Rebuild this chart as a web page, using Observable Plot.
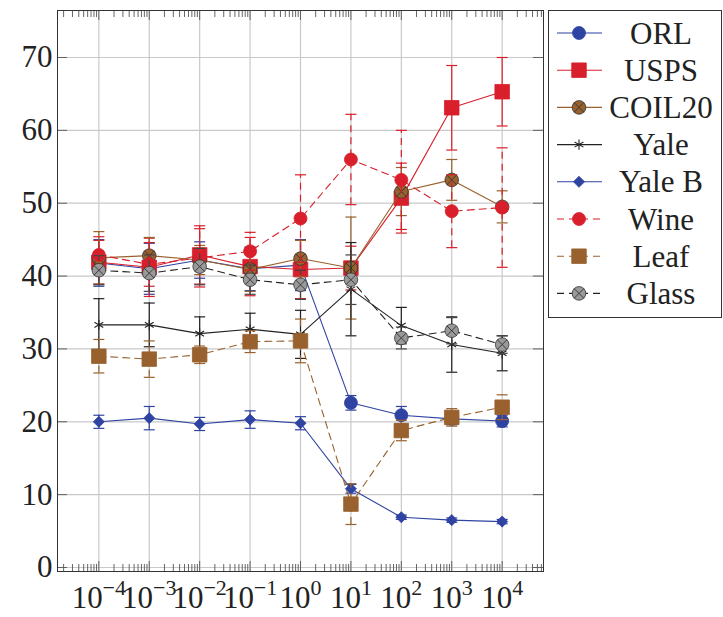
<!DOCTYPE html>
<html><head><meta charset="utf-8">
<script src="https://cdn.jsdelivr.net/npm/d3@7"></script>
<script src="https://cdn.jsdelivr.net/npm/@observablehq/plot@0.6"></script>
<style>
html,body{margin:0;padding:0;background:#fff;}
#chart{position:relative;width:723px;height:617px;}
</style></head><body><div id="chart"></div>
<script>
// ---- data ----
const lambdas = [1e-4, 1e-3, 1e-2, 1e-1, 1e0, 1e1, 1e2, 1e3, 1e4];
const seriesNames = ["ORL", "USPS", "COIL20", "Yale", "Yale B", "Wine", "Leaf", "Glass"];
const orl      = [41.8, 41.0, 42.2, 41.0, 41.5, 22.6, 20.9, 20.4, 20.1];
const orlErr   = [3.2, 3.5, 2.5, 3.0, 3.5, 1.0, 1.2, 0.8, 0.8];
const usps     = [41.9, 41.2, 42.9, 41.3, 40.9, 41.1, 50.7, 63.1, 65.3];
const uspsErr  = [3.0, 4.0, 4.0, 4.0, 4.0, 3.0, 4.8, 5.8, 4.7];
const coil20   = [42.5, 42.8, 42.2, 40.9, 42.4, 41.1, 51.6, 53.2, 49.5];
const coil20Err= [3.6, 2.5, 2.0, 3.0, 2.5, 7.0, 3.3, 2.8, 2.2];
const yale     = [33.3, 33.3, 32.1, 32.7, 32.0, 38.2, 33.2, 30.6, 29.4];
const yaleErr  = [3.6, 3.0, 2.3, 2.2, 3.3, 6.4, 2.5, 3.8, 2.4];
const yaleB    = [20.0, 20.5, 19.7, 20.3, 19.8, 10.8, 6.9, 6.5, 6.3];
const yaleBErr = [0.9, 1.6, 0.9, 1.2, 0.9, 0.6, 0.3, 0.3, 0.3];
const wine     = [42.9, 41.6, 42.5, 43.4, 47.9, 56.0, 53.2, 48.9, 49.4];
const wineErr  = [2.5, 3.0, 4.0, 2.6, 6.0, 6.2, 6.8, 5.0, 8.2];
const leaf     = [29.0, 28.6, 29.2, 31.0, 31.1, 8.7, 18.8, 20.6, 22.0];
const leafErr  = [2.3, 2.5, 1.2, 1.5, 3.0, 2.8, 1.4, 1.2, 1.7];
const glass    = [40.8, 40.4, 41.3, 39.5, 38.8, 39.5, 31.5, 32.5, 30.6];
const glassErr = [2.0, 2.5, 2.5, 2.0, 2.0, 3.4, 1.5, 1.8, 1.2];
const xTickValues = [1e-4, 1e-3, 1e-2, 1e-1, 1e0, 1e1, 1e2, 1e3, 1e4];
const yTickValues = [0, 10, 20, 30, 40, 50, 60, 70];

const values = [orl, usps, coil20, yale, yaleB, wine, leaf, glass];
const errors = [orlErr, uspsErr, coil20Err, yaleErr, yaleBErr, wineErr, leafErr, glassErr];

// ---- styles ----
const BLUE = "#2e43a2", RED = "#d81f2b", BROWN = "#98612d", BLACK = "#222";
const styles = {
  "ORL":    {color: BLUE,  fill: BLUE,  symbol: "circle",   r: 6.5, dash: null},
  "USPS":   {color: RED,   fill: RED,   symbol: "square",   r: 8.2, dash: null},
  "COIL20": {color: BROWN, fill: BROWN, symbol: "circle",   r: 6.8, dash: null, otimes: true},
  "Yale":   {color: BLACK, fill: "none",symbol: "asterisk", r: 4.8, dash: null},
  "Yale B": {color: BLUE,  fill: BLUE,  symbol: "diamond2", r: 5.0, dash: null},
  "Wine":   {color: RED,   fill: RED,   symbol: "circle",   r: 6.5, dash: "7,5"},
  "Leaf":   {color: BROWN, fill: BROWN, symbol: "square",   r: 8.2, dash: "7,5"},
  "Glass":  {color: BLACK, fill: "#999",symbol: "circle",   r: 6.8, dash: "7,5", otimes: true, errColor: "#444"}
};
const capSymbol = {draw(ctx, size) { const r = Math.sqrt(size / Math.PI); ctx.moveTo(-r, 0); ctx.lineTo(r, 0); }};

const W = 723, H = 617, mL = 57, mR = 180, mT = 10, mB = 46;
const frameH = H - mT - mB, frameW = W - mL - mR;

// minor ticks (log decades)
const minorX = [];
for (let e = -5; e <= 4; e++) for (let k = 2; k <= 9; k++) {
  const v = k * Math.pow(10, e);
  if (v > Math.pow(10, -4.82) && v < Math.pow(10, 4.82)) minorX.push(v);
}

const marks = [
  Plot.ruleX(xTickValues, {x: d => d, stroke: "#c9c9c9", strokeWidth: 1.2}),
  Plot.ruleY(yTickValues, {y: d => d, stroke: "#c9c9c9", strokeWidth: 1.2}),
  // inward ticks
  Plot.ruleX(minorX, {x: d => d, insetTop: frameH - 7, stroke: "#555", strokeWidth: 0.9}),
  Plot.ruleX(minorX, {x: d => d, insetBottom: frameH - 7, stroke: "#555", strokeWidth: 0.9}),
  Plot.ruleX(xTickValues, {x: d => d, insetTop: frameH - 10, stroke: "#555", strokeWidth: 0.9}),
  Plot.ruleX(xTickValues, {x: d => d, insetBottom: frameH - 10, stroke: "#555", strokeWidth: 0.9}),
  Plot.ruleY(yTickValues, {y: d => d, insetRight: frameW - 10, stroke: "#555", strokeWidth: 0.9}),
  Plot.ruleY(yTickValues, {y: d => d, insetLeft: frameW - 10, stroke: "#555", strokeWidth: 0.9}),
  Plot.axisY({ticks: yTickValues, tickSize: 0, tickPadding: 5, label: null, fill: "#222"}),
  Plot.axisX({ticks: xTickValues, tickSize: 0, tickPadding: 14, label: null, fill: "#222",
    tickFormat: d => "10|" + Math.round(Math.log10(d))})
];

seriesNames.forEach((name, si) => {
  const s = styles[name];
  const data = lambdas.map((x, i) => ({x, y: values[si][i], lo: values[si][i] - errors[si][i], hi: values[si][i] + errors[si][i]}));
  const ec = s.errColor || s.color;
  marks.push(
    Plot.ruleX(data, {x: "x", y1: "lo", y2: "hi", stroke: ec, strokeWidth: 1.2, strokeDasharray: s.dash}),
    Plot.dot(data, {x: "x", y: "lo", symbol: capSymbol, r: 5.5, fill: "none", stroke: ec, strokeWidth: 1.2}),
    Plot.dot(data, {x: "x", y: "hi", symbol: capSymbol, r: 5.5, fill: "none", stroke: ec, strokeWidth: 1.2}),
    Plot.line(data, {x: "x", y: "y", stroke: s.color, strokeWidth: 1.1, strokeDasharray: s.dash}),
    Plot.dot(data, {x: "x", y: "y", symbol: s.symbol, r: s.r, fill: s.fill, stroke: s.fill === "none" ? s.color : (s.otimes ? "#333" : s.color), strokeWidth: s.fill === "none" ? 1.1 : 0.8})
  );
  if (s.otimes) marks.push(Plot.dot(data, {x: "x", y: "y", symbol: "times", r: 4.6, stroke: "#333", strokeWidth: 0.9}));
});

marks.push(Plot.frame({stroke: "#333", strokeWidth: 1}));

const svg = Plot.plot({
  width: W, height: H,
  marginLeft: mL, marginRight: mR, marginTop: mT, marginBottom: mB,
  style: {fontFamily: "'Liberation Serif', 'Times New Roman', serif", fontSize: "31px", background: "#fff", color: "#222"},
  x: {type: "log", domain: [Math.pow(10, -4.82), Math.pow(10, 4.82)]},
  y: {domain: [-0.55, 76.45]},
  marks
});
document.getElementById("chart").appendChild(svg);

// superscript exponents on x tick labels
d3.select(svg).selectAll('g[aria-label="x-axis tick label"] text').each(function () {
  const t = this.textContent;
  if (!t.includes("|")) return;
  const [base, exp] = t.split("|");
  const sel = d3.select(this);
  sel.text("");
  sel.append("tspan").text(base);
  sel.append("tspan").attr("dy", -13).style("font-size", "22px").text(exp.replace("-", "\u2212"));
});

// legend
const lg = d3.select(svg).append("g").attr("font-family", "'Liberation Serif', 'Times New Roman', serif").attr("font-size", 31);
lg.append("rect").attr("x", 548.5).attr("y", 10.5).attr("width", 173).attr("height", 307).attr("fill", "#fff").attr("stroke", "#333").attr("stroke-width", 1);
const symMap = {circle: d3.symbolCircle, square: d3.symbolSquare, asterisk: d3.symbolAsterisk, diamond2: d3.symbolDiamond2, times: d3.symbolTimes};
seriesNames.forEach((name, i) => {
  const s = styles[name];
  const cy = 33 + i * 37.2;
  lg.append("line").attr("x1", 557).attr("x2", 602).attr("y1", cy).attr("y2", cy)
    .attr("stroke", s.color).attr("stroke-width", 1.1).attr("stroke-dasharray", s.dash ? "7,5" : null);
  lg.append("path").attr("transform", `translate(579,${cy})`)
    .attr("d", d3.symbol(symMap[s.symbol], Math.PI * s.r * s.r)())
    .attr("fill", s.fill).attr("stroke", s.fill === "none" ? s.color : (s.otimes ? "#333" : s.color)).attr("stroke-width", s.fill === "none" ? 1.1 : 0.8);
  if (s.otimes) lg.append("path").attr("transform", `translate(579,${cy})`)
    .attr("d", d3.symbol(d3.symbolTimes, Math.PI * 4.6 * 4.6)()).attr("fill", "none").attr("stroke", "#333").attr("stroke-width", 0.9);
  lg.append("text").attr("x", 661).attr("y", cy).attr("dy", "0.34em").attr("text-anchor", "middle").attr("fill", "#222").text(name);
});
</script></body></html>
